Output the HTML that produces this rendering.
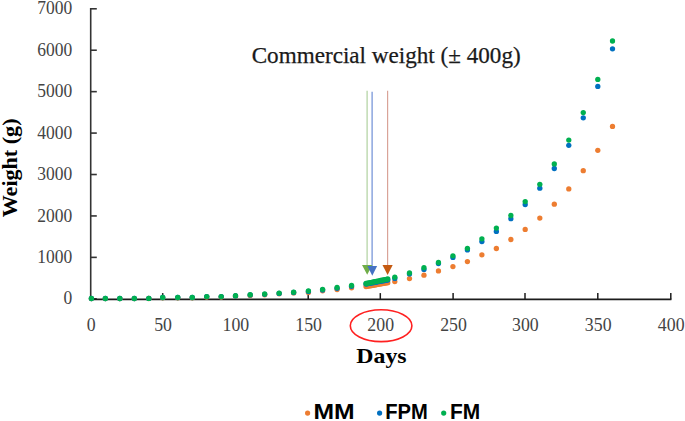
<!DOCTYPE html>
<html><head><meta charset="utf-8"><style>
html,body{margin:0;padding:0;background:#fff;width:685px;height:421px;overflow:hidden;font-family:"Liberation Serif",serif;}
svg{display:block;}
</style></head><body>
<svg width="685" height="421" viewBox="0 0 685 421"><g stroke="#333333" stroke-width="1.6" fill="none">
<line x1="90.7" y1="7.9" x2="90.7" y2="299.5"/>
<line x1="90.7" y1="298.80" x2="96.8" y2="298.80"/>
<line x1="90.7" y1="257.37" x2="96.8" y2="257.37"/>
<line x1="90.7" y1="215.94" x2="96.8" y2="215.94"/>
<line x1="90.7" y1="174.51" x2="96.8" y2="174.51"/>
<line x1="90.7" y1="133.08" x2="96.8" y2="133.08"/>
<line x1="90.7" y1="91.65" x2="96.8" y2="91.65"/>
<line x1="90.7" y1="50.22" x2="96.8" y2="50.22"/>
<line x1="90.7" y1="8.79" x2="96.8" y2="8.79"/>
<line x1="162.70" y1="299.4" x2="162.70" y2="293.1" stroke="#1c1c1c" stroke-width="1.5"/>
<line x1="235.50" y1="299.4" x2="235.50" y2="293.1" stroke="#1c1c1c" stroke-width="1.5"/>
<line x1="308.20" y1="299.4" x2="308.20" y2="293.1" stroke="#1c1c1c" stroke-width="1.5"/>
<line x1="380.30" y1="299.4" x2="380.30" y2="293.1" stroke="#1c1c1c" stroke-width="1.5"/>
<line x1="453.10" y1="299.4" x2="453.10" y2="293.1" stroke="#1c1c1c" stroke-width="1.5"/>
<line x1="525.00" y1="299.4" x2="525.00" y2="293.1" stroke="#1c1c1c" stroke-width="1.5"/>
<line x1="597.80" y1="299.4" x2="597.80" y2="293.1" stroke="#1c1c1c" stroke-width="1.5"/>
<line x1="670.80" y1="299.4" x2="670.80" y2="293.1" stroke="#1c1c1c" stroke-width="1.5"/>
</g>
<line x1="89.9" y1="299.4" x2="671.4" y2="299.4" stroke="#1c1c1c" stroke-width="1.7"/>
<g font-family="Liberation Serif, serif" font-size="19.3" fill="#444444" text-anchor="end">
<text x="72.3" y="304.40" textLength="8.75" lengthAdjust="spacingAndGlyphs">0</text>
<text x="72.3" y="262.97" textLength="35.00" lengthAdjust="spacingAndGlyphs">1000</text>
<text x="72.3" y="221.54" textLength="35.00" lengthAdjust="spacingAndGlyphs">2000</text>
<text x="72.3" y="180.11" textLength="35.00" lengthAdjust="spacingAndGlyphs">3000</text>
<text x="72.3" y="138.68" textLength="35.00" lengthAdjust="spacingAndGlyphs">4000</text>
<text x="72.3" y="97.25" textLength="35.00" lengthAdjust="spacingAndGlyphs">5000</text>
<text x="72.3" y="55.82" textLength="35.00" lengthAdjust="spacingAndGlyphs">6000</text>
<text x="72.3" y="14.39" textLength="35.00" lengthAdjust="spacingAndGlyphs">7000</text>
</g>
<g font-family="Liberation Serif, serif" font-size="19.3" fill="#444444" text-anchor="middle">
<text x="91.10" y="330.8" textLength="8.90" lengthAdjust="spacingAndGlyphs">0</text>
<text x="163.10" y="330.8" textLength="17.80" lengthAdjust="spacingAndGlyphs">50</text>
<text x="235.90" y="330.8" textLength="26.70" lengthAdjust="spacingAndGlyphs">100</text>
<text x="308.60" y="330.8" textLength="26.70" lengthAdjust="spacingAndGlyphs">150</text>
<text x="380.70" y="330.8" textLength="26.70" lengthAdjust="spacingAndGlyphs">200</text>
<text x="453.50" y="330.8" textLength="26.70" lengthAdjust="spacingAndGlyphs">250</text>
<text x="525.40" y="330.8" textLength="26.70" lengthAdjust="spacingAndGlyphs">300</text>
<text x="598.20" y="330.8" textLength="26.70" lengthAdjust="spacingAndGlyphs">350</text>
<text x="671.20" y="330.8" textLength="26.70" lengthAdjust="spacingAndGlyphs">400</text>
</g>
<text x="356.3" y="363.0" font-family="Liberation Serif, serif" font-weight="bold" font-size="22" fill="#000" textLength="50.3" lengthAdjust="spacingAndGlyphs">Days</text>
<text transform="translate(17.2,217.3) rotate(-90)" x="0" y="0" font-family="Liberation Serif, serif" font-weight="bold" font-size="22" fill="#000" textLength="98.8" lengthAdjust="spacingAndGlyphs">Weight (g)</text>
<text x="251.7" y="62.6" font-family="Liberation Serif, serif" font-size="23" fill="#1a1a1a" stroke="#1a1a1a" stroke-width="0.25" textLength="269.0" lengthAdjust="spacingAndGlyphs">Commercial weight (± 400g)</text>
<g stroke-width="1.2" fill="none">
<line x1="367.1" y1="90.7" x2="367.1" y2="266" stroke="#b0d1a0"/>
<line x1="372.1" y1="91.7" x2="372.1" y2="267" stroke="#6f8fd6"/>
<line x1="387.6" y1="90.7" x2="387.6" y2="266" stroke="#d9a398"/>
</g>
<g fill="#ED7D31"><circle cx="91.40" cy="298.60" r="2.65"/><circle cx="105.35" cy="298.60" r="2.65"/><circle cx="119.83" cy="298.60" r="2.65"/><circle cx="134.32" cy="298.60" r="2.65"/><circle cx="148.80" cy="298.50" r="2.65"/><circle cx="162.70" cy="297.80" r="2.65"/><circle cx="177.76" cy="297.80" r="2.65"/><circle cx="192.25" cy="297.80" r="2.65"/><circle cx="206.73" cy="297.00" r="2.65"/><circle cx="221.21" cy="297.00" r="2.65"/><circle cx="235.50" cy="296.20" r="2.65"/><circle cx="250.18" cy="295.50" r="2.65"/><circle cx="264.66" cy="294.80" r="2.65"/><circle cx="279.14" cy="293.80" r="2.65"/><circle cx="293.62" cy="292.90" r="2.65"/><circle cx="308.40" cy="292.60" r="2.65"/><circle cx="322.59" cy="290.80" r="2.65"/><circle cx="337.07" cy="289.60" r="2.65"/><circle cx="351.55" cy="287.80" r="2.65"/><circle cx="366.03" cy="286.50" r="2.65"/><circle cx="367.48" cy="286.25" r="2.65"/><circle cx="368.93" cy="285.99" r="2.65"/><circle cx="370.38" cy="285.74" r="2.65"/><circle cx="371.83" cy="285.49" r="2.65"/><circle cx="373.27" cy="285.23" r="2.65"/><circle cx="374.72" cy="284.98" r="2.65"/><circle cx="376.17" cy="284.73" r="2.65"/><circle cx="377.62" cy="284.47" r="2.65"/><circle cx="379.07" cy="284.22" r="2.65"/><circle cx="380.52" cy="283.97" r="2.65"/><circle cx="381.96" cy="283.71" r="2.65"/><circle cx="383.41" cy="283.46" r="2.65"/><circle cx="384.86" cy="283.21" r="2.65"/><circle cx="386.31" cy="282.95" r="2.65"/><circle cx="387.76" cy="282.70" r="2.65"/><circle cx="394.80" cy="281.60" r="2.65"/><circle cx="409.48" cy="278.60" r="2.65"/><circle cx="423.96" cy="275.20" r="2.65"/><circle cx="438.45" cy="270.90" r="2.65"/><circle cx="452.93" cy="266.60" r="2.65"/><circle cx="467.41" cy="261.60" r="2.65"/><circle cx="481.89" cy="254.80" r="2.65"/><circle cx="496.37" cy="248.50" r="2.65"/><circle cx="510.86" cy="239.50" r="2.65"/><circle cx="525.20" cy="229.40" r="2.65"/><circle cx="539.82" cy="218.10" r="2.65"/><circle cx="554.30" cy="204.20" r="2.65"/><circle cx="568.79" cy="188.90" r="2.65"/><circle cx="583.27" cy="170.70" r="2.65"/><circle cx="597.80" cy="150.30" r="2.65"/><circle cx="612.50" cy="126.40" r="2.65"/></g>
<g fill="#0070C0"><circle cx="91.40" cy="298.50" r="2.65"/><circle cx="105.35" cy="298.50" r="2.65"/><circle cx="119.83" cy="298.50" r="2.65"/><circle cx="134.32" cy="298.50" r="2.65"/><circle cx="148.80" cy="298.40" r="2.65"/><circle cx="162.70" cy="297.50" r="2.65"/><circle cx="177.76" cy="297.50" r="2.65"/><circle cx="192.25" cy="297.50" r="2.65"/><circle cx="206.73" cy="296.60" r="2.65"/><circle cx="221.21" cy="296.60" r="2.65"/><circle cx="235.50" cy="295.90" r="2.65"/><circle cx="250.18" cy="294.90" r="2.65"/><circle cx="264.66" cy="294.30" r="2.65"/><circle cx="279.14" cy="293.40" r="2.65"/><circle cx="293.62" cy="292.50" r="2.65"/><circle cx="308.40" cy="291.50" r="2.65"/><circle cx="322.59" cy="290.00" r="2.65"/><circle cx="337.07" cy="288.30" r="2.65"/><circle cx="351.55" cy="286.30" r="2.65"/><circle cx="366.03" cy="284.00" r="2.65"/><circle cx="367.48" cy="283.73" r="2.65"/><circle cx="368.93" cy="283.47" r="2.65"/><circle cx="370.38" cy="283.20" r="2.65"/><circle cx="371.83" cy="282.93" r="2.65"/><circle cx="373.27" cy="282.67" r="2.65"/><circle cx="374.72" cy="282.40" r="2.65"/><circle cx="376.17" cy="282.13" r="2.65"/><circle cx="377.62" cy="281.87" r="2.65"/><circle cx="379.07" cy="281.60" r="2.65"/><circle cx="380.52" cy="281.33" r="2.65"/><circle cx="381.96" cy="281.07" r="2.65"/><circle cx="383.41" cy="280.80" r="2.65"/><circle cx="384.86" cy="280.53" r="2.65"/><circle cx="386.31" cy="280.27" r="2.65"/><circle cx="387.76" cy="280.00" r="2.65"/><circle cx="394.80" cy="278.40" r="2.65"/><circle cx="409.48" cy="273.90" r="2.65"/><circle cx="423.96" cy="269.40" r="2.65"/><circle cx="438.45" cy="263.60" r="2.65"/><circle cx="452.93" cy="257.40" r="2.65"/><circle cx="467.41" cy="249.90" r="2.65"/><circle cx="481.89" cy="241.60" r="2.65"/><circle cx="496.37" cy="231.40" r="2.65"/><circle cx="510.86" cy="218.70" r="2.65"/><circle cx="525.20" cy="204.50" r="2.65"/><circle cx="539.82" cy="188.20" r="2.65"/><circle cx="554.30" cy="168.50" r="2.65"/><circle cx="568.79" cy="145.30" r="2.65"/><circle cx="583.27" cy="117.80" r="2.65"/><circle cx="597.80" cy="86.40" r="2.65"/><circle cx="612.50" cy="48.80" r="2.65"/></g>
<g fill="#00B050"><circle cx="91.40" cy="298.50" r="2.65"/><circle cx="105.35" cy="298.50" r="2.65"/><circle cx="119.83" cy="298.50" r="2.65"/><circle cx="134.32" cy="298.50" r="2.65"/><circle cx="148.80" cy="298.40" r="2.65"/><circle cx="162.70" cy="297.50" r="2.65"/><circle cx="177.76" cy="297.50" r="2.65"/><circle cx="192.25" cy="297.50" r="2.65"/><circle cx="206.73" cy="296.60" r="2.65"/><circle cx="221.21" cy="296.60" r="2.65"/><circle cx="235.50" cy="295.75" r="2.65"/><circle cx="250.18" cy="294.70" r="2.65"/><circle cx="264.66" cy="294.00" r="2.65"/><circle cx="279.14" cy="293.10" r="2.65"/><circle cx="293.62" cy="292.20" r="2.65"/><circle cx="308.40" cy="290.80" r="2.65"/><circle cx="322.59" cy="289.30" r="2.65"/><circle cx="337.07" cy="287.50" r="2.65"/><circle cx="351.55" cy="285.40" r="2.65"/><circle cx="366.03" cy="283.50" r="2.65"/><circle cx="367.48" cy="283.20" r="2.65"/><circle cx="368.93" cy="282.90" r="2.65"/><circle cx="370.38" cy="282.60" r="2.65"/><circle cx="371.83" cy="282.30" r="2.65"/><circle cx="373.27" cy="282.00" r="2.65"/><circle cx="374.72" cy="281.70" r="2.65"/><circle cx="376.17" cy="281.40" r="2.65"/><circle cx="377.62" cy="281.10" r="2.65"/><circle cx="379.07" cy="280.80" r="2.65"/><circle cx="380.52" cy="280.50" r="2.65"/><circle cx="381.96" cy="280.20" r="2.65"/><circle cx="383.41" cy="279.90" r="2.65"/><circle cx="384.86" cy="279.60" r="2.65"/><circle cx="386.31" cy="279.30" r="2.65"/><circle cx="387.76" cy="279.00" r="2.65"/><circle cx="394.80" cy="277.20" r="2.65"/><circle cx="409.48" cy="272.90" r="2.65"/><circle cx="423.96" cy="267.70" r="2.65"/><circle cx="438.45" cy="262.40" r="2.65"/><circle cx="452.93" cy="255.80" r="2.65"/><circle cx="467.41" cy="248.30" r="2.65"/><circle cx="481.89" cy="238.80" r="2.65"/><circle cx="496.37" cy="228.10" r="2.65"/><circle cx="510.86" cy="215.50" r="2.65"/><circle cx="525.20" cy="201.60" r="2.65"/><circle cx="539.82" cy="184.30" r="2.65"/><circle cx="554.30" cy="163.90" r="2.65"/><circle cx="568.79" cy="140.10" r="2.65"/><circle cx="583.27" cy="112.60" r="2.65"/><circle cx="597.80" cy="79.40" r="2.65"/><circle cx="612.50" cy="41.00" r="2.65"/></g>
<polygon points="362.0,265.1 372.2,265.1 367.2,274.8" fill="#70AD47"/>
<polygon points="367.4,266.1 377.1,266.1 372.3,275.8" fill="#4472C4"/>
<polygon points="382.5,265.1 392.7,265.1 387.6,275.1" fill="#C55A11"/>
<ellipse cx="381.1" cy="325.7" rx="30.8" ry="15.9" fill="none" stroke="#FF2020" stroke-width="1.6"/>
<circle cx="307.6" cy="413.1" r="2.6" fill="#ED7D31"/>
<circle cx="379.6" cy="413.1" r="2.6" fill="#0070C0"/>
<circle cx="443.7" cy="413.1" r="2.6" fill="#00B050"/>
<g font-family="Liberation Sans, sans-serif" font-weight="bold" font-size="21.6" fill="#000">
<text x="313.5" y="419.3" textLength="41.2" lengthAdjust="spacingAndGlyphs">MM</text>
<text x="385.3" y="419.3" textLength="42.6" lengthAdjust="spacingAndGlyphs">FPM</text>
<text x="450.1" y="419.3" textLength="30.2" lengthAdjust="spacingAndGlyphs">FM</text>
</g></svg>
</body></html>
